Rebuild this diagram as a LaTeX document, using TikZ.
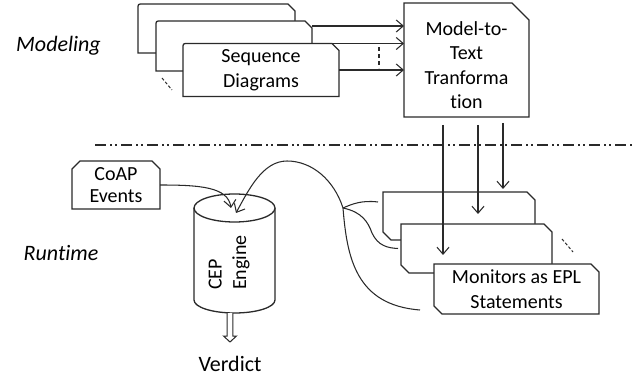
\documentclass[tikz,border=0pt]{standalone}
\usepackage{fontspec}
\setmainfont{Carlito}[Ligatures={NoCommon}]
\usetikzlibrary{arrows.meta,calc,backgrounds}
\definecolor{ink}{HTML}{2A2A2A}

% outline of a tab-like card: rounded top-left, cut top-right
\newcommand{\tabcard}[1]{\draw[outline] (#1.south west) -- ([yshift=-5pt]#1.north west) .. controls (#1.north west) .. ([xshift=5pt]#1.north west) -- ([xshift=-7pt]#1.north east) -- ([yshift=-7pt]#1.north east) -- (#1.south east) -- cycle;}
% outline of a monitor card: cut top-right and bottom-left
\newcommand{\moncard}[1]{\draw[outline] (#1.north west) -- ([xshift=-8pt]#1.north east) -- ([yshift=-8pt]#1.north east) -- (#1.south east) -- ([xshift=8pt]#1.south west) -- ([yshift=8pt]#1.south west) -- cycle;}

\begin{document}
\begin{tikzpicture}[x=1pt,y=-1pt,
  slot/.style={inner sep=0pt, outer sep=0pt},
  lbl/.style={font=\fontsize{20}{24.5}\selectfont, align=center, text=black},
  big/.style={font=\fontsize{22}{26}\selectfont, text=black},
  outline/.style={draw=ink, fill=white, line width=1.3pt, line join=miter},
  wire/.style={draw=ink, line width=1.05pt},
  arr/.style={wire, -{Straight Barb[length=7pt,width=12pt]}},
  dots/.style={draw=ink, line width=1pt, dash pattern=on 3pt off 2pt}]

\useasboundingbox (0,0) rectangle (634,379);

% ---- modeling part ----
\node[slot, minimum width=157pt, minimum height=49pt] (seq1) at (216.5,28.5) {};
\node[slot, minimum width=156pt, minimum height=50pt] (seq2) at (234,46) {};
\node[slot, lbl, minimum width=156pt, minimum height=53pt] (seq3) at (261,70) {Sequence\\Diagrams};
\node[slot, minimum width=125pt, minimum height=114pt] (mtt) at (466.5,60) {};
\node[lbl] (mtttext) at (466.5,65) {Model-to-\\Text\\Tranforma\\tion};

\node[big, font=\fontsize{22}{26}\selectfont\itshape] (modeling) at (58.5,46) {Modeling};
\node[big, font=\fontsize{22}{26}\selectfont\itshape] (runtime) at (61,253) {Runtime};

% ---- runtime part ----
\node[slot, lbl, font=\fontsize{20}{21.5}\selectfont, minimum width=88pt, minimum height=48pt] (coap) at (116,185) {CoAP\\Events};
\node[slot, minimum width=81pt, minimum height=92pt] (cep) at (234.5,254) {};
\node[lbl, align=left, rotate=90] (ceptext) at (229,262.5) {CEP\\Engine};
\node[big] (verdict) at (230,364) {Verdict};

\node[slot, minimum width=152pt, minimum height=48pt] (mon1) at (459,216) {};
\node[slot, minimum width=151pt, minimum height=49pt] (mon2) at (476.5,248.5) {};
\node[slot, lbl, minimum width=165pt, minimum height=50pt] (mon3) at (516.5,289) {Monitors as EPL\\Statements};

% ---- shapes behind the texts ----
\begin{scope}[on background layer]
  \tabcard{seq1}
  \tabcard{seq2}
  \tabcard{seq3}
  \draw[outline] (mtt.north west) -- ([xshift=-17pt]mtt.north east) -- ([yshift=-17pt]mtt.north east) -- (mtt.south east) -- (mtt.south west) -- cycle;
  \draw[outline] (coap.south west) -- ([yshift=-8pt]coap.north west) -- ([xshift=8pt]coap.north west) -- ([xshift=-8pt]coap.north east) -- ([yshift=-8pt]coap.north east) -- (coap.south east) -- cycle;
  % cylinder
  \draw[outline] (cep.north west) -- (cep.south west)
    .. controls ([yshift=-7.2pt]cep.south west) and ([xshift=-22.4pt,yshift=-13pt]cep.south) .. ([yshift=-13pt]cep.south)
    .. controls ([xshift=22.4pt,yshift=-13pt]cep.south) and ([yshift=-7.2pt]cep.south east) .. (cep.south east)
    -- (cep.north east);
  \draw[outline] (cep.north) ellipse [x radius=40.5pt, y radius=14pt];
  \moncard{mon1}
  \moncard{mon2}
  \moncard{mon3}
\end{scope}

% ---- separator ----
\draw[draw=ink, line width=1.1pt, dash pattern=on 11pt off 4pt on 1.5pt off 3.5pt on 1.5pt off 4.5pt] (95,145) -- (634,145);

% ---- sequence diagrams to transformation ----
\coordinate (a1) at ($(seq2.north east)+(0,5)$);
\coordinate (a2) at (seq2.east |- seq3.north);
\draw[arr] (a1) -- (a1 -| mtt.west);
\draw[arr] (a2) -- (a2 -| mtt.west);
\draw[arr] (seq3.east) -- (seq3.east -| mtt.west);
\draw[wire, dash pattern=on 4pt off 3pt] ($(seq3.north east)+(40,4)$) -- ($(seq3.north east)+(40,25)$);
\draw[dots] ($(seq2.south west)+(6,7)$) -- ($(seq2.south west)+(16,19)$);

% ---- transformation to monitors ----
\draw[arr] ($(mtt.south west)+(39,8)$) -- ($(mon2.north west)+(42,31)$);
\draw[arr] ($(mtt.south west)+(74,8)$) -- ($(mon1.north west)+(95,22)$);
\draw[arr] ($(mtt.south west)+(99,6)$) -- ($(mon1.north west)+(120,-3)$);
\draw[dots] ($(mon2.north east)+(10,15)$) -- ($(mon2.north east)+(21,28)$);

% ---- events into the engine ----
\coordinate (coapin) at ($(cep.north)+(-3.5,0)$);
\draw[arr] (coap.east) .. controls +(40,0) and +(-3,-21) .. (coapin);

% ---- monitors into the engine ----
\coordinate (jn) at (343,208);
\coordinate (m1end) at ($(mon1.north west)+(-5,10)$);
\coordinate (m2end) at ($(mon2.west)+(-3,0)$);
\coordinate (m3end) at ($(mon3.south west)+(-14,-4)$);
\coordinate (fbin) at ($(cep.north)+(1.5,5)$);
\draw[arr] (jn) .. controls (334,180) and (312,161) .. (287,161) .. controls (263,161) and (249,189) .. (fbin);
\draw[wire] (jn) .. controls (347,258) and (356,305) .. (m3end);
\draw[wire] (jn) .. controls (352,204) and (362,200) .. (m1end);
\draw[wire] (jn) .. controls (362,212) and (368,222) .. (372,233) .. controls (378,246) and (388,248) .. (m2end);

% ---- verdict output ----
\coordinate (vtop) at (230,313);
\draw[outline, line width=1pt] ($(vtop)+(-2.8,0)$) -- ($(vtop)+(-2.8,23)$) -- ($(vtop)+(-6.5,23)$) -- ($(vtop)+(0,29)$) -- ($(vtop)+(6.5,23)$) -- ($(vtop)+(2.8,23)$) -- ($(vtop)+(2.8,0)$);
\end{tikzpicture}
\end{document}
